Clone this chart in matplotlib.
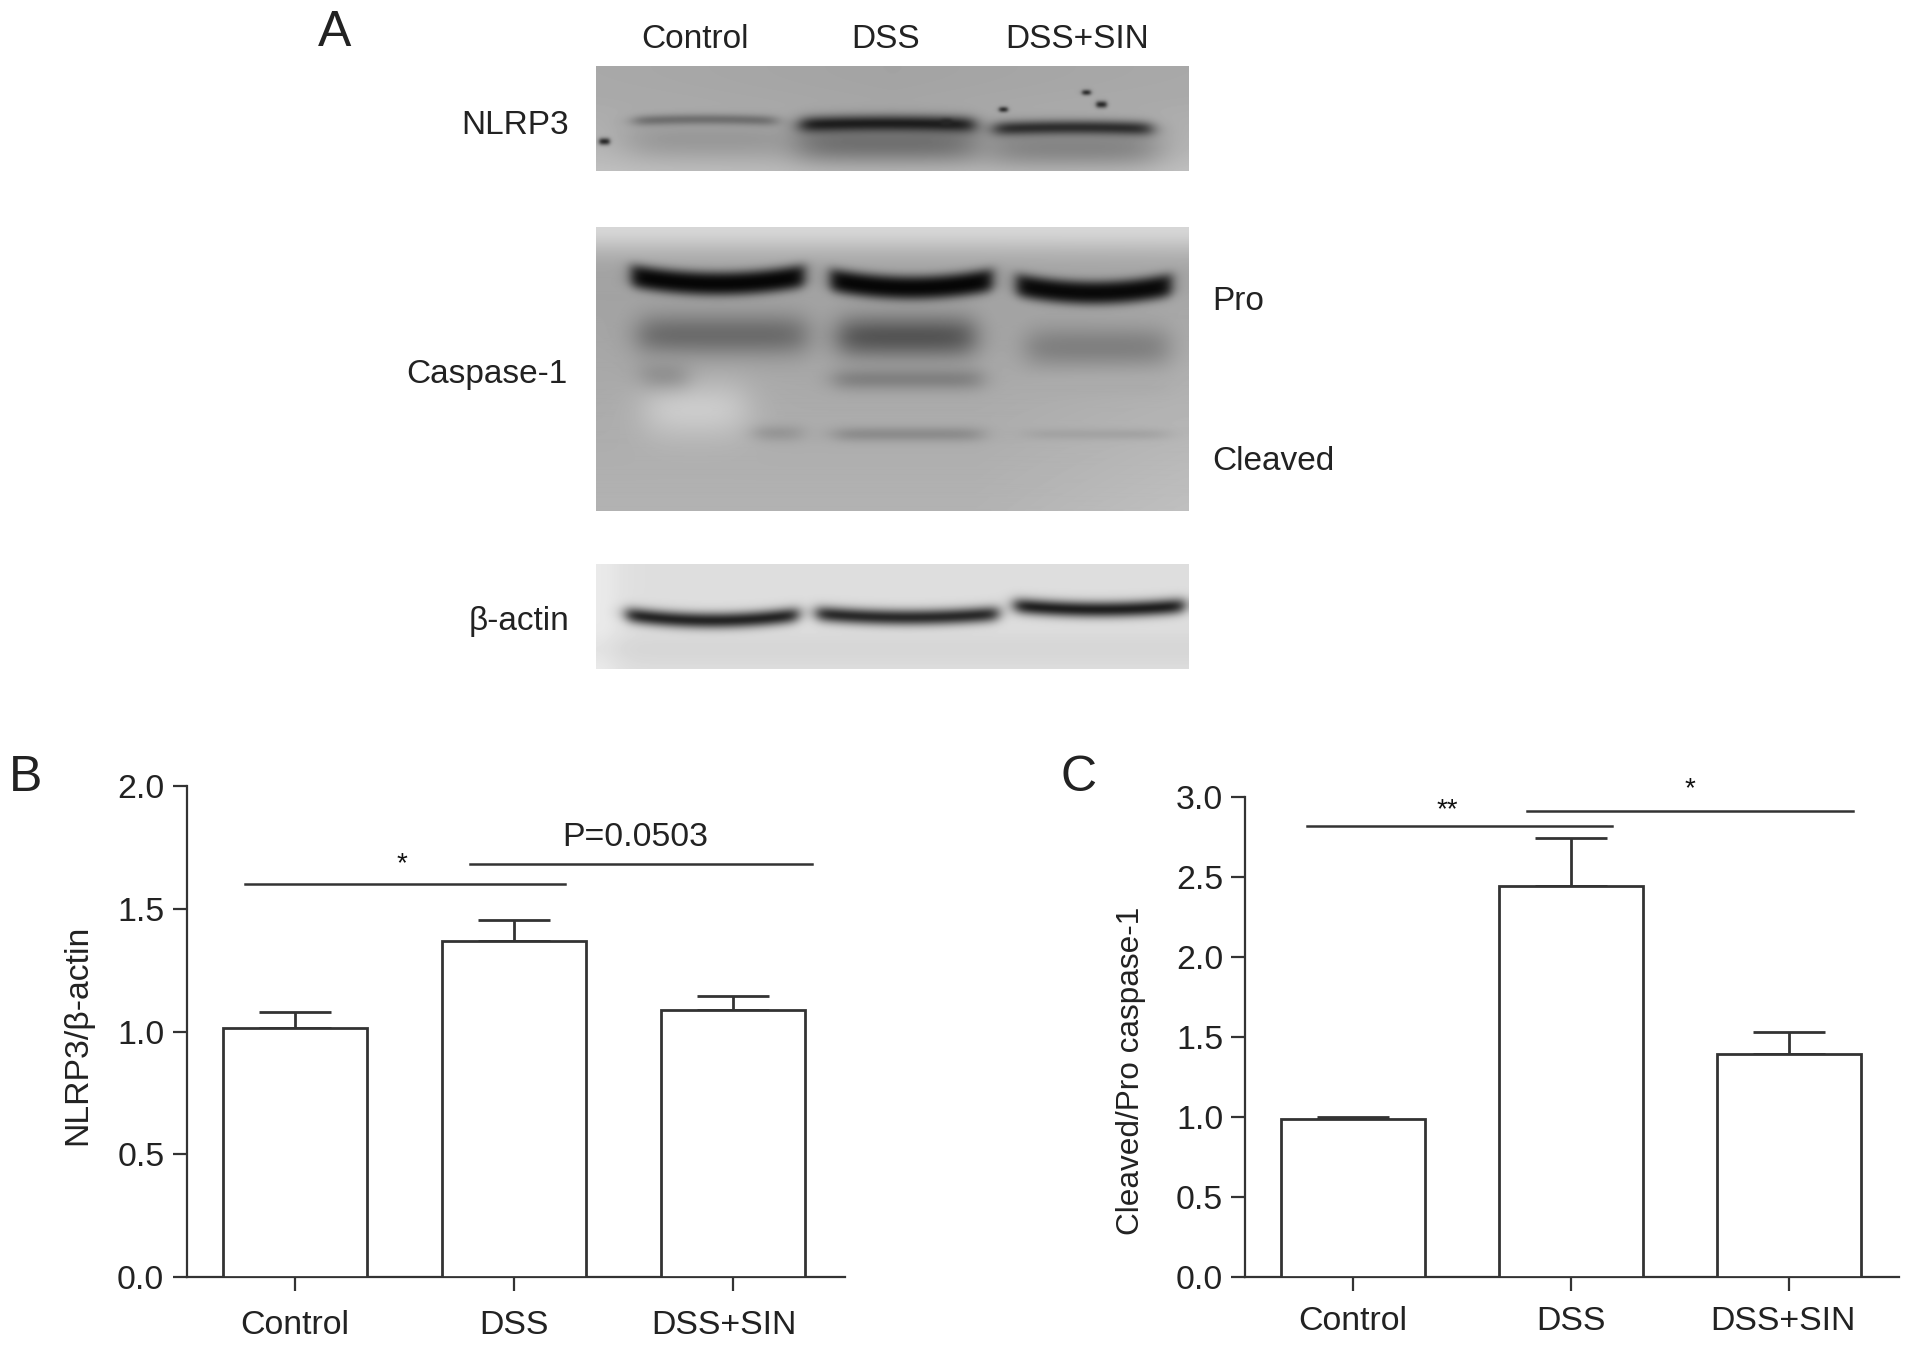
from matplotlib import pyplot as plt
from matplotlib.transforms import ScaledTranslation
import numpy as np

plt.rcParams['font.family'] = ['Liberation Sans', 'DejaVu Sans']

W, H = 1913, 1347
INK = '#333333'
TXT = '#222222'

groups = ['Control', 'DSS', 'DSS+SIN']

nlrp3_mean = [1.013, 1.368, 1.086]
nlrp3_err = [0.065, 0.085, 0.060]
nlrp3_ticks = [0.0, 0.5, 1.0, 1.5, 2.0]

casp_mean = [0.99, 2.443, 1.392]
casp_err = [0.01, 0.298, 0.138]
casp_ticks = [0.0, 0.5, 1.0, 1.5, 2.0, 2.5, 3.0]

# grey levels of the blot bands, one per lane (0 black, 1 white)
nlrp3_tone = [0.42, 0.1, 0.16]
nlrp3_smear = [0.6, 0.44, 0.52]
pro_tone = [0.02, 0.02, 0.03]
pro_low_tone = [0.42, 0.33, 0.5]
casp_mid_tone = [0.56, 0.5, 0.62]
cleaved_tone = [0.58, 0.54, 0.63]
actin_tone = [0.12, 0.14, 0.1]


def px_axes(l, t, r, b):
    return fig.add_axes([l / W, 1 - b / H, (r - l) / W, (b - t) / H])


def band(img, x0, x1, yc, thick, tone, curve=0, power=2, soft=14):
    # x and y are in the panel's own pixels
    h, w = img.shape
    yy, xx = np.mgrid[0:h, 0:w]
    mid = (x0 + x1) / 2
    half = (x1 - x0) / 2
    y_c = yc - curve * ((xx - mid) / half) ** 2
    a = np.exp(-np.abs((yy - y_c) / thick) ** power)
    a = a * 0.5 * (np.tanh((xx - x0) / soft) - np.tanh((xx - x1) / soft))
    return img * (1 - a) + tone * a


def soften(img, s=2.0):
    k = np.exp(-0.5 * (np.arange(-8, 9) / s) ** 2)
    k = k / k.sum()
    p = np.pad(img, 8, mode='edge')
    p = np.apply_along_axis(lambda v: np.convolve(v, k, mode='same'), 0, p)
    p = np.apply_along_axis(lambda v: np.convolve(v, k, mode='same'), 1, p)
    return p[8:-8, 8:-8]


def nlrp3_panel():
    w, h = 593, 105
    yy, xx = np.mgrid[0:h, 0:w]
    img = 0.64 + 0.09 * (yy / h) ** 2 + 0.04 * np.abs(xx / w - 0.5)
    lanes = [(38, 180, 53), (204, 378, 57), (398, 555, 61)]
    for i, (x0, x1, yc) in enumerate(lanes):
        img = band(img, x0 - 5, x1 + 5, yc + 20, 20, nlrp3_smear[i], soft=24)
    for i, (x0, x1, yc) in enumerate(lanes):
        img = band(img, x0, x1, yc, [5, 8, 7][i], nlrp3_tone[i], curve=-1.5, soft=10)
    img = soften(img, 1.5)
    for sx, sy, sr in [(8, 75, 5), (407, 43, 4), (505, 38, 5), (490, 26, 4), (350, 56, 5)]:
        img = band(img, sx - sr, sx + sr, sy, sr * 0.7, 0.15, soft=2.5)
    return img


def casp_panel():
    w, h = 593, 284
    yy, xx = np.mgrid[0:h, 0:w]
    img = 0.62 + 0.08 * (yy / h) + 0.22 * np.exp(-(yy / 26.0) ** 2)
    img = img + 0.05 * np.clip((xx - 380) / 210.0, 0, 1) * (yy / h)
    # pale patch in the control lane
    img = band(img, 50, 150, 183, 30, 0.8, soft=22)
    # pro bands
    lanes = [(35, 208, 57), (234, 396, 61), (420, 575, 66)]
    for i, (x0, x1, yc) in enumerate(lanes):
        img = band(img, x0, x1, yc, 12, pro_tone[i], curve=8, power=3, soft=7)
    # lower band of the doublet
    for i, (x0, x1, yc) in enumerate([(42, 210, 108), (242, 378, 110), (430, 572, 120)]):
        img = band(img, x0, x1, yc, 21, pro_low_tone[i], soft=16)
    img = band(img, 45, 90, 147, 15, casp_mid_tone[0], soft=14)
    img = band(img, 238, 385, 152, 11, casp_mid_tone[1], soft=14)
    img = band(img, 430, 570, 158, 10, casp_mid_tone[2] + 0.05, soft=16)
    # cleaved bands
    img = band(img, 160, 205, 206, 8, cleaved_tone[0], soft=12)
    img = band(img, 238, 385, 207, 7, cleaved_tone[1], soft=14)
    img = band(img, 430, 570, 207, 5, cleaved_tone[2], soft=16)
    return soften(img, 2.0)


def actin_panel():
    w, h = 593, 105
    yy, xx = np.mgrid[0:h, 0:w]
    img = 0.87 - 0.03 * np.exp(-((yy - 85) / 15.0) ** 2) + 0.05 * np.exp(-(xx / 25.0) ** 2)
    lanes = [(30, 202, 56), (220, 402, 53), (418, 588, 45)]
    for i, (x0, x1, yc) in enumerate(lanes):
        img = band(img, x0, x1, yc, 8, actin_tone[i], curve=6 if i == 0 else 4, soft=8)
    return soften(img, 1.5)


def draw_bars(ax, mean, err, ticks, spacing_width, x_pad, last_shift):
    x = np.arange(len(mean))
    ax.bar(x, mean, width=spacing_width, facecolor='white', edgecolor=INK, linewidth=2, zorder=3)
    ax.errorbar(x, mean, yerr=[np.zeros(len(err)), err], fmt='none', ecolor=INK, elinewidth=2,
                capsize=26, capthick=2, zorder=2)
    ax.set_xticks(x)
    ax.set_xticklabels(groups)
    ax.set_yticks(ticks)
    ax.set_yticklabels(['%.1f' % t for t in ticks])
    ax.tick_params(axis='both', length=10, width=1.6, color=INK, labelsize=24.4, labelcolor=TXT)
    ax.tick_params(axis='x', pad=x_pad)
    ax.tick_params(axis='y', pad=6)
    # the last group label sits a little left of its tick
    lab = ax.get_xticklabels()[-1]
    lab.set_transform(lab.get_transform() + ScaledTranslation(last_shift / 100, 0, fig.dpi_scale_trans))
    for s in ['top', 'right']:
        ax.spines[s].set_visible(False)
    for s in ['left', 'bottom']:
        ax.spines[s].set_linewidth(1.6)
        ax.spines[s].set_color(INK)


def label(x, y, s, size=24, ha='center', rotation=0):
    fig.text(x / W, 1 - y / H, s, fontsize=size, color=TXT, ha=ha, va='center', rotation=rotation)


fig = plt.figure(figsize=(W / 100, H / 100), dpi=100)

# Panel A
for img, (t, b) in [(nlrp3_panel(), (66, 171)), (casp_panel(), (227, 511)), (actin_panel(), (564, 669))]:
    a = px_axes(596, t, 1189, b)
    a.imshow(img, cmap='gray', vmin=0, vmax=1, aspect='auto', interpolation='bilinear')
    a.axis('off')

for x, s in zip([695, 886, 1077], groups):
    label(x, 40, s)
label(569, 126, 'NLRP3', ha='right')
label(567, 374, 'Caspase-1', ha='right')
label(569, 622, 'β-actin', ha='right')
label(1212, 302, 'Pro', ha='left')
label(1212, 462, 'Cleaved', ha='left')
label(335, 33, 'A', size=36)
label(26, 778, 'B', size=36)
label(1079, 778, 'C', size=36)

# Panel B
ax = px_axes(186.5, 786, 844.6, 1277)
draw_bars(ax, nlrp3_mean, nlrp3_err, nlrp3_ticks, 0.6575, 14, -9)
ax.set_xlim(-0.495, 2.51)
ax.set_ylim(0, 2)
ax.plot([-0.228, 1.233], [1.6, 1.6], color=INK, lw=1.8, clip_on=False)
ax.plot([0.80, 2.36], [1.682, 1.682], color=INK, lw=1.8, clip_on=False)
ax.text(0.49, 1.68, '*', fontsize=20, ha='center', va='center', color='#111111')
ax.text(1.555, 1.79, 'P=0.0503', fontsize=24.4, ha='center', va='center', color=TXT)
label(78, 1035, 'NLRP3/β-actin', size=24.3, rotation=90)

# Panel C
ax2 = px_axes(1245.4, 797, 1899, 1277)
draw_bars(ax2, casp_mean, casp_err, casp_ticks, 0.66, 11, -6)
ax2.set_xlim(-0.494, 2.505)
ax2.set_ylim(0, 3)
ax2.plot([-0.213, 1.19], [2.818, 2.818], color=INK, lw=1.8, clip_on=False)
ax2.plot([0.80, 2.296], [2.91, 2.91], color=INK, lw=1.8, clip_on=False)
ax2.text(0.431, 2.915, '**', fontsize=20, ha='center', va='center', color='#111111', clip_on=False)
ax2.text(1.544, 3.05, '*', fontsize=20, ha='center', va='center', color='#111111', clip_on=False)
label(1131, 1071, 'Cleaved/Pro caspase-1', size=22.7, rotation=90)

fig.savefig('out.png', dpi=100)
